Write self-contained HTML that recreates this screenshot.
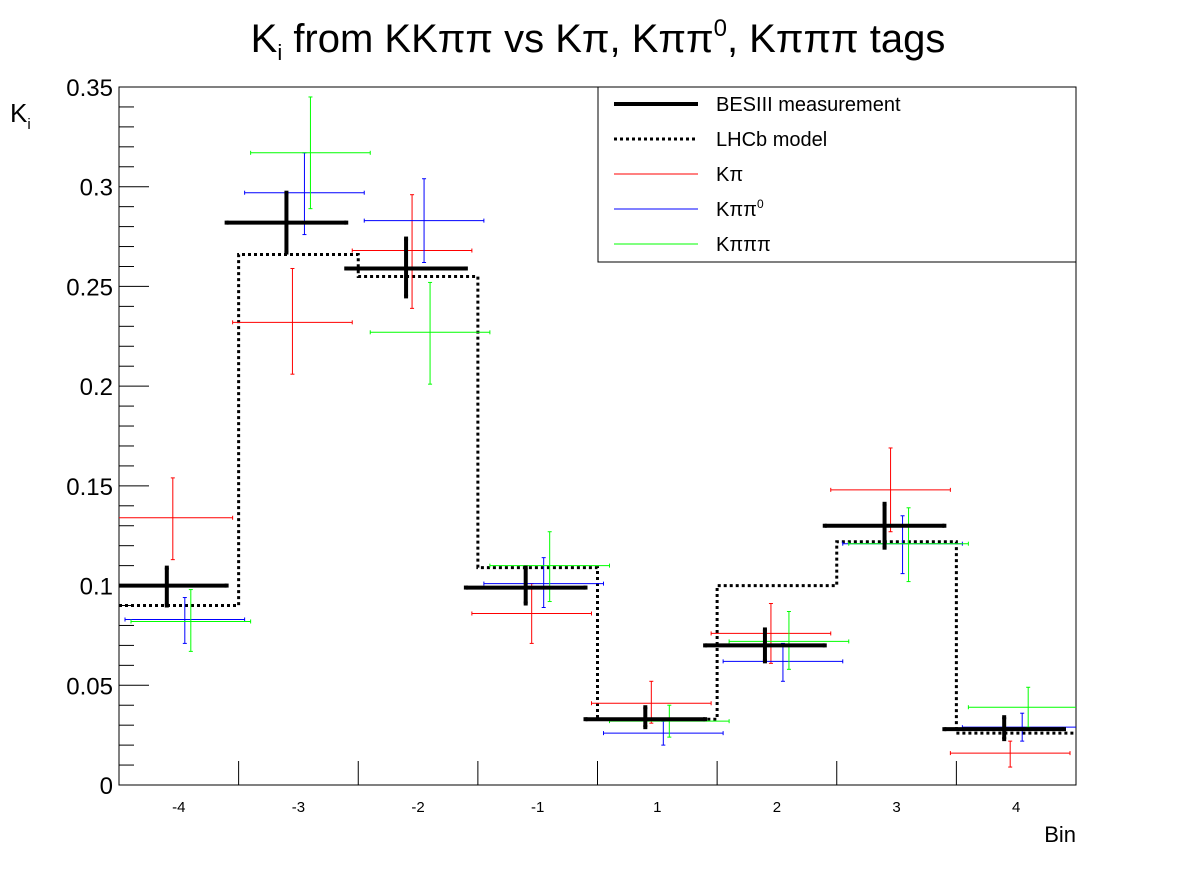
<!DOCTYPE html>
<html><head><meta charset="utf-8">
<style>
html,body{margin:0;padding:0;background:#fff;}
svg{display:block;font-family:"Liberation Sans",sans-serif;}
</style></head>
<body>
<svg id="chart" width="1196" height="872" viewBox="0 0 1196 872" xmlns="http://www.w3.org/2000/svg">
<text x="598" y="52" font-size="40" text-anchor="middle">K<tspan font-size="22" dy="8">i</tspan><tspan dy="-8"> from KKππ vs Kπ, Kππ</tspan><tspan font-size="24" dy="-16">0</tspan><tspan dy="16">, Kπππ tags</tspan></text>
<rect x="119" y="87" width="957" height="698" fill="none" stroke="#000" stroke-width="1"/>
<g id="axes"></g>
<g id="marks"></g>
<text x="10" y="122" font-size="26">K<tspan font-size="15" dy="7">i</tspan></text>
<text x="1076" y="842" font-size="22" text-anchor="end">Bin</text>
<g>
<rect x="598" y="87" width="478" height="175" fill="#fff" stroke="#000" stroke-width="1"/>
<line x1="614" y1="104" x2="698" y2="104" stroke="#000" stroke-width="4"/>
<text x="716" y="111" font-size="20">BESIII measurement</text>
<line x1="614" y1="139" x2="698" y2="139" stroke="#000" stroke-width="3" stroke-dasharray="3 3"/>
<text x="716" y="146" font-size="20">LHCb model</text>
<line x1="614" y1="174" x2="698" y2="174" stroke="#f00" stroke-width="1"/>
<text x="716" y="181" font-size="20">Kπ</text>
<line x1="614" y1="209" x2="698" y2="209" stroke="#00f" stroke-width="1"/>
<text x="716" y="216" font-size="20">Kππ<tspan font-size="12" dy="-8">0</tspan></text>
<line x1="614" y1="244" x2="698" y2="244" stroke="#0f0" stroke-width="1"/>
<text x="716" y="251" font-size="20">Kπππ</text>
</g>
</svg>
<script>
const bins = ["-4","-3","-2","-1","1","2","3","4"];
const yTicks = [0,0.05,0.1,0.15,0.2,0.25,0.3,0.35];
const yTickLabels = ["0","0.05","0.1","0.15","0.2","0.25","0.3","0.35"];
const lhcb = [0.090,0.266,0.255,0.109,0.033,0.100,0.122,0.026];
const besVal = [0.100,0.282,0.259,0.099,0.033,0.070,0.130,0.028];
const besLo  = [0.090,0.267,0.245,0.091,0.029,0.062,0.119,0.023];
const besHi  = [0.109,0.297,0.274,0.109,0.039,0.078,0.141,0.034];
const kpiVal = [0.134,0.232,0.268,0.086,0.041,0.076,0.148,0.016];
const kpiLo  = [0.113,0.206,0.239,0.071,0.031,0.061,0.127,0.009];
const kpiHi  = [0.154,0.259,0.296,0.101,0.052,0.091,0.169,0.022];
const kpp0Val = [0.083,0.297,0.283,0.101,0.026,0.062,0.121,0.029];
const kpp0Lo  = [0.071,0.276,0.262,0.089,0.020,0.052,0.106,0.022];
const kpp0Hi  = [0.094,0.317,0.304,0.114,0.032,0.071,0.135,0.036];
const k3piVal = [0.082,0.317,0.227,0.110,0.032,0.072,0.121,0.039];
const k3piLo  = [0.067,0.289,0.201,0.092,0.024,0.058,0.102,0.029];
const k3piHi  = [0.098,0.345,0.252,0.127,0.040,0.087,0.139,0.049];

const NS="http://www.w3.org/2000/svg";
const X0=119,X1=1076,Y0=785,Y1=87,YMAX=0.35;
const bw=(X1-X0)/bins.length;
const xEdge=i=>X0+i*bw;
const xC=(i,off)=>X0+(i+0.5)*bw+off;
const yS=v=>Y0-v/YMAX*(Y0-Y1);
function mk(tag,attrs,parent){const e=document.createElementNS(NS,tag);for(const k in attrs)e.setAttribute(k,attrs[k]);parent.appendChild(e);return e;}
const axes=document.getElementById('axes'), marks=document.getElementById('marks');

for(let k=0;k<=35;k++){
  const v=k*0.01, major=k%5===0;
  const t=mk('line',{x1:X0,x2:X0+(major?30:15),y1:yS(v),y2:yS(v),stroke:'#000','stroke-width':1},axes);
  
  
}
yTicks.forEach((v,i)=>{
  const t=mk('text',{x:X0-6,y:yS(v)+9,'font-size':24,'text-anchor':'end'},axes);
  t.textContent=yTickLabels[i];
  
  
});
for(let i=1;i<bins.length;i++){
  const t=mk('line',{x1:xEdge(i),x2:xEdge(i),y1:Y0,y2:Y0-24,stroke:'#000','stroke-width':1},axes);
  
  
}
bins.forEach((b,i)=>{
  const t=mk('text',{x:xC(i,0),y:812,'font-size':15,'text-anchor':'middle'},axes);
  t.textContent=b;
  
  
});

let d='';
lhcb.forEach((v,i)=>{d+=(i===0?'M':'L')+xEdge(i)+','+yS(v)+' L'+xEdge(i+1)+','+yS(v)+' ';});
const step=mk('path',{d:d,fill:'none',stroke:'#000','stroke-width':3,'stroke-dasharray':'3 3'},marks);



function series(vals,lo,hi,off,color,w,cap,name){
  vals.forEach((v,i)=>{
    const g=mk('g',{},marks);
    
    
    const cx=xC(i,off);
    const xa=Math.max(X0,cx-bw/2), xb=Math.min(X1,cx+bw/2);
    mk('line',{x1:xa,x2:xb,y1:yS(v),y2:yS(v),stroke:color,'stroke-width':w},g);
    mk('line',{x1:cx,x2:cx,y1:yS(lo[i]),y2:yS(hi[i]),stroke:color,'stroke-width':w},g);
    mk('line',{x1:cx-cap,x2:cx+cap,y1:yS(lo[i]),y2:yS(lo[i]),stroke:color,'stroke-width':w},g);
    mk('line',{x1:cx-cap,x2:cx+cap,y1:yS(hi[i]),y2:yS(hi[i]),stroke:color,'stroke-width':w},g);
    if(xa>X0) mk('line',{x1:xa,x2:xa,y1:yS(v)-cap,y2:yS(v)+cap,stroke:color,'stroke-width':w},g);
    if(xb<X1) mk('line',{x1:xb,x2:xb,y1:yS(v)-cap,y2:yS(v)+cap,stroke:color,'stroke-width':w},g);
  });
}
series(kpiVal,kpiLo,kpiHi,-6,'#f00',1,2,'kpi');
series(kpp0Val,kpp0Lo,kpp0Hi,6,'#00f',1,2,'kpipi0');
series(k3piVal,k3piLo,k3piHi,12,'#0f0',1,2,'kpipipi');
series(besVal,besLo,besHi,-12,'#000',4,2,'besiii');
</script>
</body></html>
